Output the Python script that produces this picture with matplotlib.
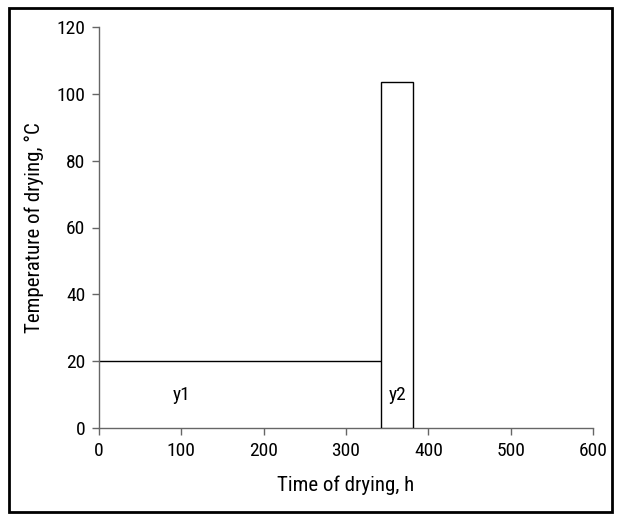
import matplotlib
matplotlib.use("Agg")
import matplotlib.pyplot as plt
from matplotlib.patches import Rectangle
from matplotlib import font_manager

names = {f.name for f in font_manager.fontManager.ttflist}
chosen = "Liberation Sans"
for cand in ["Liberation Sans Narrow", "Nimbus Sans Narrow", "Arial Narrow", "Roboto Condensed", "Archivo Narrow"]:
    if cand in names:
        chosen = cand
        break
plt.rcParams['font.family'] = [chosen, "DejaVu Sans"]

# Data
line_x = [0, 342]
line_y = [20, 20]
bar_start = 342
bar_end = 381
bar_height = 103.5
labels = ["y1", "y2"]
label_x = [100, 362]
label_y = [10, 10]
xticks = [0, 100, 200, 300, 400, 500, 600]
yticks = [0, 20, 40, 60, 80, 100, 120]

fig = plt.figure(figsize=(6.19, 5.20), dpi=100)
ax = fig.add_axes([0.160, 0.177, 0.798, 0.771])

ax.plot(line_x, line_y, color="black", lw=1.0)
ax.add_patch(Rectangle((bar_start, 0), bar_end - bar_start, bar_height,
                       facecolor="white", edgecolor="black", lw=1.0, zorder=3))
for t, x, y in zip(labels, label_x, label_y):
    ax.text(x, y, t, ha="center", va="center", fontsize=14)

ax.set_xlim(0, 600)
ax.set_ylim(0, 120)
ax.set_xticks(xticks)
ax.set_yticks(yticks)
ax.tick_params(labelsize=14, color="#666666", length=5, width=1, pad=5)
for s in ["top", "right"]:
    ax.spines[s].set_visible(False)
for s in ["left", "bottom"]:
    ax.spines[s].set_color("#666666")
    ax.spines[s].set_linewidth(1)
ax.set_xlabel("Time of drying, h", fontsize=15, labelpad=11)
ax.set_ylabel("Temperature of drying, °C", fontsize=15, labelpad=9)

fig.patches.append(Rectangle((0.015, 0.015), 0.973, 0.97, transform=fig.transFigure,
                             fill=False, edgecolor="black", lw=2))
fig.savefig("out.png", dpi=100)
